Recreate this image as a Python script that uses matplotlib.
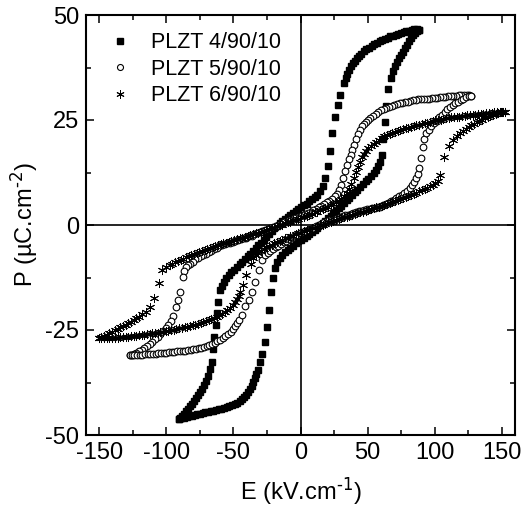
import matplotlib

matplotlib.use("Agg")
import matplotlib.pyplot as plt
from matplotlib.ticker import MultipleLocator

plt.rcParams["font.family"] = ["Liberation Sans", "DejaVu Sans"]
plt.rcParams["mathtext.default"] = "regular"
plt.rcParams["axes.unicode_minus"] = False

# PLZT 4/90/10 (filled squares): descending branch, then ascending branch
e4_desc = [88.5, 87, 85, 83, 81, 79, 77, 75, 73, 71, 69, 67, 65, 63, 61, 59, 57, 55, 53, 51,
           49, 47, 45, 43.5, 42, 40.5, 39, 37.5, 36, 34.8, 33.7, 32.2, 29.6, 27.7, 26, 23.8,
           22, 20.3, 18.5, 16.5, 14.5, 12.5, 10.5, 8.5, 6.5, 4.5, 2.5, 0.5, -1.5, -3.5, -5.5,
           -7.5, -9.5, -11.5, -13.5, -15.5, -17.5, -19.5, -21.5, -23.5, -25.5, -27.5, -29.5,
           -31.5, -33.5, -35.5, -37.5, -39.5, -41.5, -43.5, -45.5, -47.5, -49.5, -51.5, -53.5,
           -55.5, -57.3, -58.8, -60, -61.6, -62.5, -63.3, -64.2, -65, -66.2, -67.5, -69, -70.5,
           -72, -73.5, -75, -76.5, -78, -79.5, -81, -82.5, -84, -85.5, -87, -88.5, -90, -90.8]
p4_desc = [46.5, 46.6, 46.6, 46.5, 46.3, 46.1, 45.9, 45.7, 45.5, 45.3, 45.1, 44.9, 44.6,
           44.3, 44.1, 43.8, 43.4, 43.0, 42.7, 42.2, 41.8, 41.4, 40.8, 40.2, 39.7, 39.1, 38.6,
           37.9, 37.0, 36.0, 35.0, 33.9, 31.0, 28.6, 25.6, 21.8, 17.7, 14.0, 11.2, 9.2, 8.0,
           7.2, 6.6, 6.1, 5.6, 5.1, 4.7, 4.3, 3.8, 3.4, 2.9, 2.5, 2.0, 1.5, 0.9, 0.4, -0.2,
           -0.8, -1.5, -2.1, -2.8, -3.5, -4.2, -4.8, -5.5, -6.1, -6.8, -7.4, -8.0, -8.7, -9.3,
           -10.0, -10.6, -11.3, -12.0, -12.7, -13.6, -14.5, -15.5, -18.4, -21.0, -23.8, -26.7,
           -29.5, -32.7, -34.4, -36.0, -37.2, -38.2, -39.0, -39.8, -40.5, -41.2, -41.9, -42.5,
           -43.2, -43.8, -44.4, -45.0, -45.5, -46.0, -46.3]
e4_asc = [-90.8, -89, -87, -85, -83, -81, -79, -77, -75, -73, -71, -69, -67, -65, -63, -61,
          -59, -57, -55, -53, -51, -49, -47, -45, -43.5, -42, -40.5, -39, -37.7, -36.4, -35.2,
          -34, -32.9, -31.7, -30.1, -28.5, -26.8, -25.2, -23.6, -22.1, -20.6, -19, -17.3,
          -15.5, -13.5, -11.5, -9.5, -7.5, -5.5, -3.5, -1.5, 0.5, 2.5, 4.5, 6.5, 8.5, 10.5,
          12.5, 14.5, 16.5, 18.5, 20.5, 22.5, 24.5, 26.5, 28.5, 30.5, 32.5, 34.5, 36.5, 38.5,
          40.5, 42.5, 44.5, 46.5, 48.5, 50.5, 52.5, 54.5, 56.3, 58, 59.5, 60.8, 61.9, 62.8,
          63.7, 65.5, 67.4, 69, 70.5, 72, 73.5, 75, 76.5, 78, 79.5, 81, 82.5, 84, 85.5, 87,
          88.5]
p4_asc = [-46.3, -46.0, -45.9, -45.7, -45.5, -45.4, -45.2, -45.1, -44.9, -44.8, -44.6,
          -44.5, -44.3, -44.2, -44.0, -43.9, -43.7, -43.6, -43.4, -43.2, -42.9, -42.6, -42.3,
          -41.9, -41.5, -41.0, -40.4, -39.8, -39.1, -38.3, -37.4, -36.5, -35.5, -34.5, -32.7,
          -30.6, -27.8, -24.2, -20.2, -15.9, -12.5, -10.3, -8.7, -7.8, -7.1, -6.5, -5.9, -5.4,
          -4.9, -4.4, -3.9, -3.5, -3.0, -2.6, -2.1, -1.6, -1.1, -0.6, -0.1, 0.4, 1.0, 1.6,
          2.2, 2.8, 3.4, 4.0, 4.6, 5.2, 5.9, 6.5, 7.1, 7.8, 8.4, 9.1, 9.7, 10.4, 11.0, 11.7,
          12.4, 13.2, 14.1, 15.1, 16.6, 20.5, 24.5, 28.3, 32.5, 35.0, 36.6, 37.8, 38.8, 39.7,
          40.5, 41.3, 42.1, 42.9, 43.7, 44.5, 45.2, 45.8, 46.2, 46.5]

# PLZT 5/90/10 (open circles)
e5_desc = [127.5, 126, 124, 122, 120, 118, 116, 114, 112, 110, 108, 106, 104, 102, 100, 98,
           96, 94, 92, 90, 88, 86, 84, 82, 80, 78, 76, 74, 72, 70, 68, 66, 64, 62, 60, 58, 56,
           54, 52, 50.5, 49, 47.5, 46, 44.5, 43, 41.5, 40, 38.6, 37.3, 36, 34.6, 33.2, 31.8,
           30.4, 29, 27.5, 25.5, 23.5, 21.5, 19.5, 17.5, 15.5, 13.5, 11.5, 9.5, 7.5, 5.5, 3.5,
           1.5, -0.5, -2.5, -4.5, -6.5, -8.5, -10.5, -12.5, -14.5, -16.5, -18.5, -20.5, -22.5,
           -24.5, -26.5, -28.5, -30.5, -32.5, -34.5, -36.5, -38.5, -40.5, -42.5, -44.5, -46.5,
           -48.5, -50.5, -52.5, -54.5, -56.5, -58.5, -60.5, -62.5, -64.5, -66.5, -68.5, -70.5,
           -72.5, -74.5, -76.5, -78.5, -80.5, -82.5, -84, -85.4, -86.7, -87.9, -89.9, -91.4,
           -92.9, -94.9, -96.5, -98.5, -100.5, -102.5, -104.5, -106.5, -108.5, -110.5, -112.5,
           -114.5, -116.5, -118.5, -120.5, -122.5, -124.5, -126, -127.3]
p5_desc = [30.8, 30.9, 30.9, 30.9, 30.9, 30.9, 30.8, 30.7, 30.7, 30.6, 30.5, 30.5, 30.4,
           30.3, 30.3, 30.2, 30.1, 30.1, 30.0, 29.9, 29.9, 29.8, 29.7, 29.5, 29.4, 29.3, 29.1,
           29.0, 28.8, 28.6, 28.4, 28.1, 27.9, 27.6, 27.3, 26.9, 26.5, 26.0, 25.5, 25.1, 24.6,
           24.0, 23.5, 22.6, 21.6, 20.4, 19.1, 17.8, 16.7, 15.6, 14.2, 12.8, 11.2, 9.6, 8.3,
           7.5, 6.8, 6.3, 5.8, 5.4, 5.0, 4.6, 4.2, 3.9, 3.5, 3.2, 2.9, 2.6, 2.4, 2.1, 1.8, 1.6,
           1.3, 1.1, 0.8, 0.6, 0.3, 0.1, -0.2, -0.4, -0.7, -0.9, -1.2, -1.4, -1.7, -2.0, -2.2,
           -2.5, -2.7, -3.0, -3.2, -3.4, -3.6, -3.8, -4.0, -4.2, -4.4, -4.6, -4.8, -5.0, -5.4,
           -5.8, -6.1, -6.4, -6.8, -7.1, -7.4, -7.8, -8.2, -8.7, -9.2, -9.6, -10.0, -11.0,
           -12.3, -15.9, -17.9, -19.6, -21.7, -22.9, -23.8, -24.6, -25.3, -26.0, -26.6, -27.2,
           -27.8, -28.3, -28.8, -29.3, -29.7, -30.1, -30.4, -30.7, -30.9, -31.0]
e5_asc = [-127.3, -126, -124, -122, -120, -118, -116, -114, -112, -110, -108, -106, -104,
          -102, -100, -98, -96, -94, -92, -90, -88, -86, -84, -82, -80, -78, -76, -74, -72,
          -70, -68, -66, -64, -62, -60, -58, -56, -54, -52, -50.5, -49, -47.5, -45.8, -43.7,
          -41.2, -38.7, -36.2, -33.7, -31.2, -28.7, -26.5, -24.5, -22.5, -20.5, -18.5, -16.5,
          -14.5, -12.5, -10.5, -8.5, -6.5, -4.5, -2.5, -0.5, 1.5, 3.5, 5.5, 7.5, 9.5, 11.5,
          13.5, 15.5, 17.5, 19.5, 21.5, 23.5, 25.5, 27.5, 29.5, 31.5, 33.5, 35.5, 37.5, 39.5,
          41.5, 43.5, 45.5, 47.5, 49.5, 51.5, 53.5, 55.5, 57.5, 59.5, 61.5, 63.5, 65.5, 67.5,
          69.5, 71.5, 73.5, 75.5, 77.5, 79.5, 81.5, 83.2, 84.7, 86.1, 87.4, 88.6, 89.9, 91.1,
          92.4, 93.6, 95.5, 97.5, 99.5, 101.5, 103.5, 105.5, 107.5, 109.5, 111.5, 113.5,
          115.5, 117.5, 119.5, 121.5, 123.5, 125.5, 127.5]
p5_asc = [-31.0, -31.0, -31.0, -30.9, -30.9, -30.9, -30.8, -30.8, -30.7, -30.6, -30.6,
          -30.5, -30.5, -30.4, -30.4, -30.3, -30.2, -30.2, -30.1, -30.0, -30.0, -29.9, -29.8,
          -29.7, -29.6, -29.5, -29.3, -29.2, -29.0, -28.8, -28.6, -28.3, -28.0, -27.7, -27.4,
          -27.0, -26.5, -26.0, -25.4, -24.8, -24.1, -23.4, -22.5, -21.4, -19.4, -17.9, -15.9,
          -13.5, -10.7, -8.3, -7.2, -6.6, -6.1, -5.7, -5.3, -4.9, -4.5, -4.1, -3.8, -3.4,
          -3.0, -2.7, -2.3, -2.0, -1.7, -1.4, -1.1, -0.9, -0.6, -0.3, 0.0, 0.3, 0.6, 0.9, 1.1,
          1.3, 1.5, 1.7, 1.9, 2.1, 2.3, 2.5, 2.7, 2.9, 3.1, 3.3, 3.4, 3.6, 3.7, 3.9, 4.0, 4.1,
          4.3, 4.4, 4.7, 5.0, 5.3, 5.6, 6.0, 6.4, 6.8, 7.2, 7.7, 8.2, 8.8, 9.5, 10.3, 11.1,
          12.2, 13.5, 16.0, 18.6, 20.4, 21.8, 22.7, 23.5, 24.2, 24.8, 25.6, 26.3, 27.0, 27.6,
          28.1, 28.6, 29.0, 29.4, 29.8, 30.1, 30.4, 30.6, 30.8]

# PLZT 6/90/10 (asterisks)
e6_desc = [152.3, 150.5, 148.5, 146.5, 144.5, 142.5, 140.5, 138.5, 136.5, 134.5, 132.5,
           130.5, 128.5, 126.5, 124.5, 122.5, 120.5, 118.5, 116.5, 114.5, 112.5, 110.5, 108.5,
           106.5, 104.5, 102.5, 100.5, 98.5, 96.5, 94.5, 92.5, 90.5, 88.5, 86.5, 84.5, 82.5,
           80.5, 78.5, 76.5, 74.5, 72.5, 70.5, 68.5, 66.5, 64.5, 62.5, 60.5, 58.5, 56.5, 54.5,
           52.5, 50.5, 48.8, 47.2, 45.7, 44.2, 42.7, 41.2, 39.6, 38, 36.4, 34.7, 32.5, 30.5,
           28.5, 26.5, 24.5, 22.5, 20.5, 18.5, 16.5, 14.5, 12.5, 10.5, 8.5, 6.5, 4.5, 2.5, 0.5,
           -1.5, -3.5, -5.5, -7.5, -9.5, -11.5, -13.5, -15.5, -17.5, -19.5, -21.5, -23.5,
           -25.5, -27.5, -29.5, -31.5, -33.5, -35.5, -37.5, -39.5, -41.5, -43.5, -45.5, -47.5,
           -49.5, -51.5, -53.5, -55.5, -57.5, -59.5, -61.5, -63.5, -65.5, -67.5, -69.5, -71.5,
           -73.5, -75.5, -77.5, -79.5, -81.5, -83.5, -85.5, -87.5, -89.5, -91.5, -93.5, -95.5,
           -97.5, -100.3, -103, -105.7, -109.2, -112.6, -115.5, -118, -120.5, -122.5, -124.5,
           -126.5, -128.5, -130.5, -132.5, -134.5, -136.5, -138.5, -140.5, -142.5, -144.5,
           -146.5, -148.5, -150.5]
p6_desc = [27.0, 27.0, 26.9, 26.8, 26.8, 26.7, 26.6, 26.6, 26.5, 26.4, 26.4, 26.3, 26.2,
           26.1, 26.1, 26.0, 25.9, 25.8, 25.8, 25.7, 25.6, 25.5, 25.4, 25.2, 25.1, 25.0, 24.9,
           24.7, 24.6, 24.4, 24.2, 24.0, 23.9, 23.7, 23.5, 23.3, 23.1, 23.0, 22.8, 22.6, 22.4,
           22.2, 21.9, 21.7, 21.4, 21.1, 20.7, 20.3, 19.8, 19.3, 18.8, 18.3, 17.6, 17.0, 16.1,
           15.1, 13.9, 12.6, 11.1, 9.7, 8.5, 7.6, 6.8, 6.3, 5.8, 5.4, 5.0, 4.7, 4.4, 4.1, 3.8,
           3.5, 3.2, 3.0, 2.7, 2.5, 2.2, 2.0, 1.8, 1.5, 1.3, 1.1, 0.8, 0.6, 0.4, 0.1, -0.1,
           -0.3, -0.6, -0.8, -1.0, -1.2, -1.4, -1.6, -1.8, -2.0, -2.2, -2.4, -2.6, -2.8, -3.0,
           -3.2, -3.4, -3.6, -3.8, -4.0, -4.2, -4.4, -4.6, -4.8, -5.0, -5.2, -5.5, -5.7, -5.9,
           -6.1, -6.4, -6.6, -6.9, -7.1, -7.4, -7.7, -8.0, -8.3, -8.6, -8.9, -9.2, -9.5,
           -10.0, -10.8, -13.9, -17.3, -19.5, -20.6, -21.3, -21.8, -22.2, -22.6, -23.0, -23.3,
           -23.7, -24.0, -24.3, -24.7, -25.1, -25.4, -25.8, -26.1, -26.4, -26.7, -27.0]
e6_asc = [-150.5, -148.5, -146.5, -144.5, -142.5, -140.5, -138.5, -136.5, -134.5, -132.5,
          -130.5, -128.5, -126.5, -124.5, -122.5, -120.5, -118.5, -116.5, -114.5, -112.5,
          -110.5, -108.5, -106.5, -104.5, -102.5, -100.5, -98.5, -96.5, -94.5, -92.5, -90.5,
          -88.5, -86.5, -84.5, -82.5, -80.5, -78.5, -76.5, -74.5, -72.5, -70.5, -68.5, -66.5,
          -64.5, -62.5, -60.5, -58.5, -56.5, -54.5, -52.5, -50.7, -49, -47.5, -46.2, -45,
          -42.6, -40.4, -37.2, -35.5, -33.5, -31.5, -29.5, -27.5, -25.5, -23.5, -21.5, -19.5,
          -17.5, -15.5, -13.5, -11.5, -9.5, -7.5, -5.5, -3.5, -1.5, 0.5, 2.5, 4.5, 6.5, 8.5,
          10.5, 12.5, 14.5, 16.5, 18.5, 20.5, 22.5, 24.5, 26.5, 28.5, 30.5, 32.5, 34.5, 36.5,
          38.5, 40.5, 42.5, 44.5, 46.5, 48.5, 50.5, 52.5, 54.5, 56.5, 58.5, 60.5, 62.5, 64.5,
          66.5, 68.5, 70.5, 72.5, 74.5, 76.5, 78.5, 80.5, 82.5, 84.5, 86.5, 88.5, 90.5, 92.5,
          94.5, 96.5, 98.5, 100.5, 102.4, 104.4, 106.9, 110.4, 113.6, 116.5, 119, 121.5,
          123.5, 125.5, 127.5, 129.5, 131.5, 133.5, 135.5, 137.5, 139.5, 141.5, 143.5, 145.5,
          147.5, 149.5, 151, 152.3]
p6_asc = [-27.0, -27.0, -27.0, -26.9, -26.9, -26.9, -26.8, -26.8, -26.7, -26.7, -26.6,
          -26.6, -26.5, -26.4, -26.4, -26.3, -26.2, -26.1, -26.0, -25.9, -25.8, -25.7, -25.6,
          -25.5, -25.4, -25.3, -25.2, -25.0, -24.9, -24.8, -24.6, -24.5, -24.3, -24.2, -24.0,
          -23.8, -23.7, -23.5, -23.3, -23.1, -22.9, -22.6, -22.4, -22.1, -21.8, -21.5, -21.1,
          -20.7, -20.2, -19.7, -19.1, -18.4, -17.6, -16.8, -15.9, -14.3, -11.9, -9.3, -7.9,
          -7.1, -6.6, -6.1, -5.7, -5.3, -5.0, -4.7, -4.4, -4.1, -3.8, -3.5, -3.2, -3.0, -2.7,
          -2.5, -2.2, -2.0, -1.8, -1.5, -1.3, -1.1, -0.8, -0.6, -0.4, -0.1, 0.1, 0.3, 0.6,
          0.8, 1.0, 1.2, 1.4, 1.6, 1.8, 2.0, 2.2, 2.4, 2.6, 2.8, 3.0, 3.2, 3.4, 3.6, 3.8, 4.0,
          4.2, 4.4, 4.6, 4.8, 5.0, 5.2, 5.5, 5.7, 5.9, 6.1, 6.4, 6.6, 6.9, 7.1, 7.4, 7.7, 8.0,
          8.3, 8.6, 8.9, 9.2, 9.5, 9.9, 10.4, 11.9, 16.3, 18.8, 20.2, 21.2, 21.9, 22.5, 22.9,
          23.3, 23.7, 24.1, 24.5, 24.8, 25.1, 25.4, 25.7, 25.9, 26.2, 26.4, 26.6, 26.8, 26.9,
          27.0]

labels = ["PLZT 4/90/10", "PLZT 5/90/10", "PLZT 6/90/10"]

fig = plt.figure(figsize=(5.22, 5.16), dpi=100)
ax = fig.add_axes([86 / 522, 1 - 435 / 516, 429 / 522, 420 / 516])

ax.axhline(0, color="black", linewidth=1.2, zorder=1)
ax.axvline(0, color="black", linewidth=1.2, zorder=1)

sq = dict(marker="s", markersize=5.0, color="black", linestyle="none", zorder=3)
ci = dict(marker="o", markersize=4.8, markerfacecolor="white", markeredgecolor="black",
          markeredgewidth=0.8, linestyle="none", zorder=4)
st = dict(marker=(6, 2, 0), markersize=6.5, markeredgecolor="black", markeredgewidth=0.7,
          linestyle="none", zorder=5)

ax.plot(e4_desc + e4_asc, p4_desc + p4_asc, label=labels[0], **sq)
ax.plot(e5_desc + e5_asc, p5_desc + p5_asc, label=labels[1], **ci)
ax.plot(e6_desc + e6_asc, p6_desc + p6_asc, label=labels[2], **st)

ax.set_xlim(-160, 160)
ax.set_ylim(-50, 50)
ax.xaxis.set_major_locator(MultipleLocator(50))
ax.xaxis.set_minor_locator(MultipleLocator(25))
ax.yaxis.set_major_locator(MultipleLocator(25))
ax.yaxis.set_minor_locator(MultipleLocator(12.5))
ax.tick_params(which="both", direction="in", top=True, right=True, width=1.1,
               labelsize=17, pad=5)
ax.tick_params(which="major", length=6)
ax.tick_params(which="minor", length=3.5)
for s in ax.spines.values():
    s.set_linewidth(1.5)

ax.set_xlabel(r"E (kV.cm$^{\text{-1}}$)", fontsize=17, labelpad=8)
ax.set_ylabel("P (\u00b5C.cm$^{\\text{-2}}$)", fontsize=17, labelpad=4)

ax.legend(loc="upper left", bbox_to_anchor=(0.02, 0.99), frameon=False, fontsize=15.5,
          handlelength=1.2, handletextpad=0.8, labelspacing=0.26, borderaxespad=0.2,
          numpoints=1, markerscale=0.9)

fig.savefig("out.png", dpi=100)
